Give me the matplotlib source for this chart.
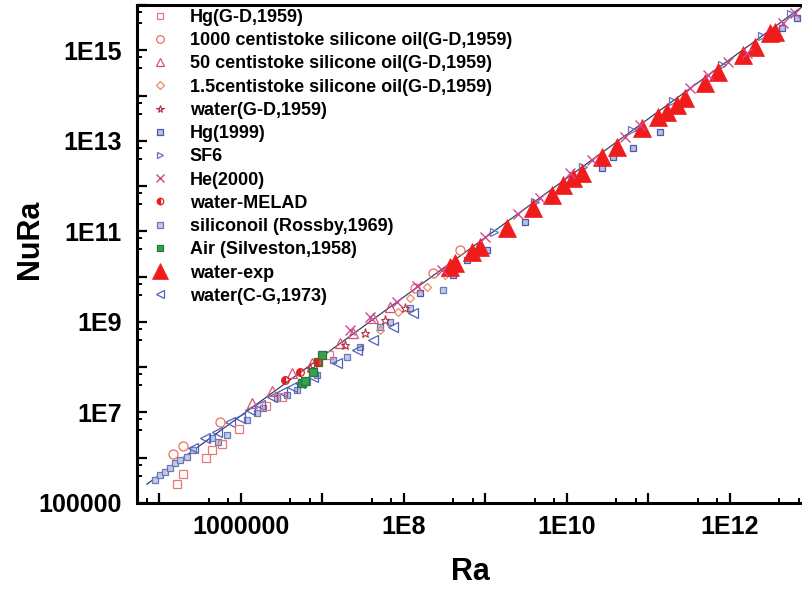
import numpy as np
import matplotlib
matplotlib.use("Agg")
import matplotlib.pyplot as plt
from matplotlib.ticker import FixedLocator, FuncFormatter, NullFormatter

plt.rcParams['font.family'] = ['Liberation Sans', 'DejaVu Sans']
plt.rcParams['font.weight'] = 'bold'

# data (Ra, Nu*Ra)
hg_gd_ra = [1.64e5, 1.94e5, 3.7e5, 4.4e5, 5.8e5, 9.4e5, 2.0e6, 3.2e6, 1.2e7]
hg_gd_nura = [2.6e5, 4.4e5, 9.8e5, 1.48e6, 2.0e6, 4.3e6, 1.38e7, 2.2e7, 1.9e8]

cst1000_ra = [1.47e5, 1.94e5, 5.5e5, 1.36e8, 2.27e8, 4.9e8]
cst1000_nura = [1.2e6, 1.8e6, 6.2e6, 5.6e9, 1.2e10, 3.8e10]

cst50_ra = [1.35e6, 2.4e6, 4.2e6, 7.4e6, 1.64e7, 2.37e7, 4.2e7, 6.7e7]
cst50_nura = [1.6e7, 3.0e7, 7.4e7, 1.23e8, 3.4e8, 5.6e8, 1.2e9, 2.1e9]

cst15_ra = [5.1e7, 8.4e7, 1.19e8, 1.91e8, 3.2e8]
cst15_nura = [6.6e8, 1.66e9, 3.35e9, 5.9e9, 1.07e10]

water_gd_ra = [7.0e6, 1.89e7, 3.3e7, 5.8e7, 1.03e8]
water_gd_nura = [9.5e7, 3.1e8, 5.6e8, 1.1e9, 2.0e9]

hg1999_ra = [1.57e8, 4.0e8, 5.9e8, 1.04e9, 1.73e9, 3.05e9, 6.2e9, 1.25e10,
             2.7e10, 3.7e10, 6.4e10, 1.38e11, 4.3e12, 6.6e12]
hg1999_nura = [4.3e9, 1.07e10, 2.3e10, 3.8e10, 9.1e10, 1.6e11, 4.9e11, 1.23e12,
               2.5e12, 4.4e12, 6.9e12, 1.55e13, 3.1e15, 5.1e15]

sf6_ra = [1.26e9, 4.0e9, 1.58e10, 6.3e10, 2.0e11, 7.9e11, 2.5e12, 5.6e12]
sf6_nura = [9.8e10, 4.5e11, 2.7e12, 1.7e13, 7.6e13, 4.7e14, 2.1e15, 6.2e15]

he2000_ra = [2.2e7, 3.8e7, 8.2e7, 1.45e8, 2.9e8, 9.9e8, 2.5e9, 4.7e9, 1.09e10,
             2.0e10, 5.2e10, 7.9e10, 3.2e11, 5.4e11, 9.4e11, 1.6e12, 4.5e12, 6.3e12]
he2000_nura = [6.6e8, 1.29e9, 2.8e9, 6.2e9, 1.39e10, 7.4e10, 2.4e11, 5.4e11, 1.9e12,
               3.7e12, 1.2e13, 2.2e13, 1.45e14, 2.8e14, 5.5e14, 8.5e14, 4.0e15, 6.6e15]

melad_ra = [3.5e6, 5.3e6, 8.8e6]
melad_nura = [5.2e7, 7.8e7, 1.29e8]

silicon_ra = [8.8e4, 1.01e5, 1.17e5, 1.35e5, 1.55e5, 1.79e5, 2.2e5, 2.6e5, 4.4e5,
              5.2e5, 6.7e5, 1.19e6, 1.57e6, 1.86e6, 2.8e6, 3.7e6, 4.9e6, 6.5e6,
              8.6e6, 1.35e7, 2.0e7, 2.9e7, 5.1e7, 6.7e7, 1.19e8, 3.0e8]
silicon_nura = [3.2e5, 4.2e5, 4.8e5, 5.9e5, 7.6e5, 8.9e5, 1.04e6, 1.49e6, 2.7e6,
                2.2e6, 3.2e6, 6.8e6, 9.7e6, 1.26e7, 2.1e7, 2.4e7, 3.1e7, 4.7e7,
                6.7e7, 1.44e8, 1.67e8, 2.8e8, 7.7e8, 9.9e8, 2.0e9, 5.0e9]

air_ra = [5.6e6, 6.1e6, 7.6e6, 8.8e6, 1.0e7]
air_nura = [4.5e7, 4.9e7, 7.8e7, 1.29e8, 1.85e8]

wexp_ra = [3.66e8, 4.2e8, 6.8e8, 8.6e8, 1.84e9, 3.8e9, 6.5e9, 8.9e9, 1.19e10,
           1.53e10, 2.7e10, 4.1e10, 8.3e10, 1.31e11, 1.69e11, 2.24e11, 2.8e11,
           4.9e11, 7.1e11, 1.44e12, 2.0e12, 3.1e12, 3.6e12]
wexp_nura = [1.62e10, 2.0e10, 3.5e10, 4.5e10, 1.17e11, 3.2e11, 6.3e11, 1.05e12,
             1.49e12, 1.9e12, 4.3e12, 7.2e12, 1.9e13, 3.3e13, 4.3e13, 6.1e13,
             8.8e13, 1.87e14, 3.3e14, 7.7e14, 1.17e15, 2.4e15, 2.5e15]

water_cg_ra = [2.6e5, 3.6e5, 5.1e5, 7.3e5, 9.7e5, 1.29e6, 1.71e6, 2.4e6, 3.2e6,
               4.2e6, 5.3e6, 7.6e6, 1.5e7, 2.65e7, 4.2e7, 7.3e7, 1.29e8]
water_cg_nura = [1.63e6, 2.7e6, 3.7e6, 6.2e6, 7.6e6, 1.13e7, 1.45e7, 2.2e7, 2.8e7,
                 3.6e7, 4.5e7, 6.0e7, 1.23e8, 2.4e8, 4.0e8, 7.7e8, 1.55e9]

fit_ra = [7.0e4, 7.9e12]
fit_nura = [2.6e5, 9.5e15]

fig = plt.figure(figsize=(8.03, 5.90), dpi=100)
ax = fig.add_axes([137 / 803, 87 / 590, 666 / 803, 498 / 590])

ax.plot(fit_ra, fit_nura, color='#3a3f66', lw=0.9, zorder=1)

ms = 5.5
ax.plot(silicon_ra, silicon_nura, 's', ms=ms - 1, mfc='#c4cae6', mec='#6878b8', mew=0.9,
        ls='none', label='siliconoil (Rossby,1969)', zorder=2)
ax.plot(water_cg_ra, water_cg_nura, '<', ms=ms + 1, mfc='none', mec='#5060b8', mew=0.9,
        ls='none', label='water(C-G,1973)', zorder=2)
ax.plot(hg1999_ra, hg1999_nura, 's', ms=ms - 1, mfc='#b8c0e6', mec='#4a5aa8', mew=0.9,
        ls='none', label='Hg(1999)', zorder=2)
ax.plot(sf6_ra, sf6_nura, '>', ms=ms, mfc='none', mec='#6870c0', mew=0.9,
        ls='none', label='SF6', zorder=2)
ax.plot(hg_gd_ra, hg_gd_nura, 's', ms=ms, mfc='none', mec='#e87878', mew=0.9,
        ls='none', label='Hg(G-D,1959)', zorder=3)
ax.plot(cst1000_ra, cst1000_nura, 'o', ms=ms + 1, mfc='none', mec='#e8705f', mew=0.9,
        ls='none', label='1000 centistoke silicone oil(G-D,1959)', zorder=3)
ax.plot(cst50_ra, cst50_nura, '^', ms=ms + 1, mfc='none', mec='#d8507a', mew=0.9,
        ls='none', label='50 centistoke silicone oil(G-D,1959)', zorder=3)
ax.plot(cst15_ra, cst15_nura, 'D', ms=ms - 1, mfc='none', mec='#e88a6a', mew=0.9,
        ls='none', label='1.5centistoke silicone oil(G-D,1959)', zorder=3)
ax.plot(water_gd_ra, water_gd_nura, '*', ms=ms + 1, mfc='none', mec='#b83040', mew=0.8,
        ls='none', label='water(G-D,1959)', zorder=3)
ax.plot(air_ra, air_nura, 's', ms=ms, mfc='#3aa050', mec='#1f7a35', mew=0.9,
        ls='none', label='Air (Silveston,1958)', zorder=3)
ax.plot(melad_ra, melad_nura, 'o', ms=ms, fillstyle='left', mfc='#e02020',
        mec='#e02020', mew=0.9, ls='none', label='water-MELAD', zorder=3)
ax.plot(wexp_ra, wexp_nura, '^', ms=13, mfc='#f01c1c', mec='#f01c1c', mew=0.5,
        ls='none', label='water-exp', zorder=4)
ax.plot(he2000_ra, he2000_nura, 'x', ms=ms + 1, mec='#d04890', mew=1.0,
        ls='none', label='He(2000)', zorder=5)

ax.set_xscale('log')
ax.set_yscale('log')
ax.set_xlim(10 ** 4.724, 10 ** 12.896)
ax.set_ylim(1e5, 1e16)

# major ticks every decade, labels every second decade
ax.xaxis.set_major_locator(FixedLocator([10.0 ** k for k in range(5, 13)]))
ax.yaxis.set_major_locator(FixedLocator([10.0 ** k for k in range(5, 17)]))
minors_x = [m * 10.0 ** k for k in range(4, 13) for m in (4, 7)]
minors_y = [m * 10.0 ** k for k in range(4, 16) for m in (4, 7)]
ax.xaxis.set_minor_locator(FixedLocator(minors_x))
ax.yaxis.set_minor_locator(FixedLocator(minors_y))
ax.xaxis.set_minor_formatter(NullFormatter())
ax.yaxis.set_minor_formatter(NullFormatter())


def fmt_label(v, pos, shown):
    k = int(round(np.log10(v)))
    if k not in shown:
        return ''
    if k <= 6:
        return str(int(round(v)))
    return '1E%d' % k


ax.xaxis.set_major_formatter(FuncFormatter(lambda v, p: fmt_label(v, p, (6, 8, 10, 12))))
ax.yaxis.set_major_formatter(FuncFormatter(lambda v, p: fmt_label(v, p, (5, 7, 9, 11, 13, 15))))

ax.tick_params(which='major', direction='in', length=7, width=1.6, labelsize=18, pad=11)
ax.tick_params(axis='x', which='major', pad=9)
ax.tick_params(which='minor', direction='in', length=3.5, width=1.4)
ax.tick_params(top=False, right=False, which='both')
for lbl in ax.get_xticklabels() + ax.get_yticklabels():
    lbl.set_fontweight('bold')

for side in ('left', 'bottom', 'top'):
    ax.spines[side].set_linewidth(2.2)
ax.spines['right'].set_visible(False)

ax.set_xlabel('Ra', fontsize=22, fontweight='bold', va='center')
ax.set_ylabel('NuRa', fontsize=22, fontweight='bold', va='center')
ax.xaxis.set_label_coords(0.5, -0.139)
ax.yaxis.set_label_coords(-0.161, 0.53)

order = ['Hg(G-D,1959)', '1000 centistoke silicone oil(G-D,1959)',
         '50 centistoke silicone oil(G-D,1959)', '1.5centistoke silicone oil(G-D,1959)',
         'water(G-D,1959)', 'Hg(1999)', 'SF6', 'He(2000)', 'water-MELAD',
         'siliconoil (Rossby,1969)', 'Air (Silveston,1958)', 'water-exp', 'water(C-G,1973)']
handles, labels = ax.get_legend_handles_labels()
hmap = dict(zip(labels, handles))
leg = ax.legend([hmap[k] for k in order], order, loc='upper left',
                bbox_to_anchor=(0.021, 0.992), frameon=False, borderpad=0,
                borderaxespad=0, handlelength=1.0, handletextpad=1.15,
                labelspacing=0.345, markerscale=0.85,
                prop={'size': 13, 'weight': 'bold'})

fig.savefig('out.png', dpi=100)
